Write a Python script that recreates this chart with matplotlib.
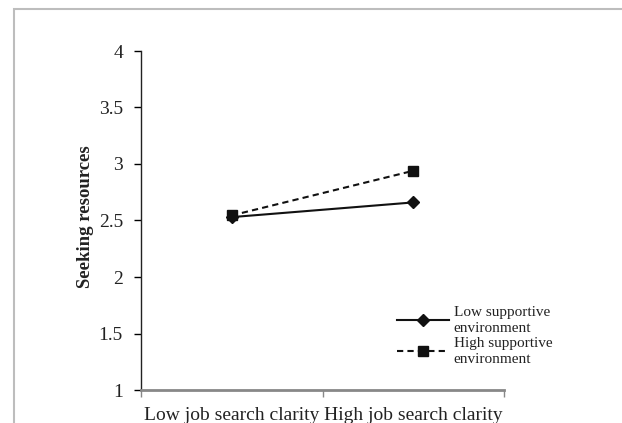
import matplotlib
matplotlib.use("Agg")
import matplotlib.pyplot as plt
from matplotlib.patches import Rectangle

categories = ["Low job search clarity", "High job search clarity"]
low_support = [2.53, 2.66]
high_support = [2.545, 2.94]
series_labels = ["Low supportive\nenvironment", "High supportive\nenvironment"]
y_ticks = [1, 1.5, 2, 2.5, 3, 3.5, 4]
y_tick_labels = ["1", "1.5", "2", "2.5", "3", "3.5", "4"]

plt.rcParams['font.family'] = ['Liberation Serif', 'DejaVu Serif']

W, H = 622, 423
fig = plt.figure(figsize=(W / 100, H / 100), dpi=100)

# outer light-gray border (top and left visible)
fig.patches.append(Rectangle((14 / W, -0.1), 1.2, 1 - 9 / H + 0.1, transform=fig.transFigure,
                             fill=False, edgecolor='#bdbdbd', linewidth=1.5))

ax = fig.add_axes([141 / W, 1 - 390 / H, (504 - 141) / W, (390 - 51) / H])
x = [0.5, 1.5]
ax.plot(x, low_support, color='#111111', linestyle='-', linewidth=1.5,
        marker='D', markersize=6, label=series_labels[0])
ax.plot(x, high_support, color='#111111', linestyle=(0, (3, 2)), linewidth=1.5,
        marker='s', markersize=7.5, label=series_labels[1])

ax.set_xlim(0, 2)
ax.set_ylim(1, 4)
ax.set_yticks(y_ticks)
ax.set_yticklabels(y_tick_labels, fontsize=14, color='#222222')
ax.set_xticks([0, 1, 2])
ax.set_xticklabels([])
ax.set_xticks(x, minor=True)
ax.set_xticklabels(categories, minor=True, fontsize=14, color='#222222')
ax.tick_params(axis='x', which='minor', length=0, pad=12)
ax.tick_params(axis='x', which='major', length=5, width=1, color='#888888', direction='out')
ax.tick_params(axis='y', length=5, width=1, direction='out', pad=8)

for s in ['top', 'right']:
    ax.spines[s].set_visible(False)
ax.spines['left'].set_color('#222222')
ax.spines['left'].set_linewidth(1)
ax.spines['bottom'].set_color('#888888')
ax.spines['bottom'].set_linewidth(2)

ax.set_ylabel("Seeking resources", fontsize=13.5, fontweight='bold', color='#222222')
ax.yaxis.set_label_coords((94 - 141) / (504 - 141), 0.51)

leg = ax.legend(loc='upper left', bbox_to_anchor=((397 - 141) / (504 - 141), (390 - 306) / (390 - 51)),
                frameon=False, fontsize=11, handlelength=3.4, handletextpad=0.3,
                labelspacing=0.15, borderaxespad=0, borderpad=0)
for t in leg.get_texts():
    t.set_color('#222222')
    t.set_linespacing(1.3)

fig.savefig("out.png", dpi=100)
